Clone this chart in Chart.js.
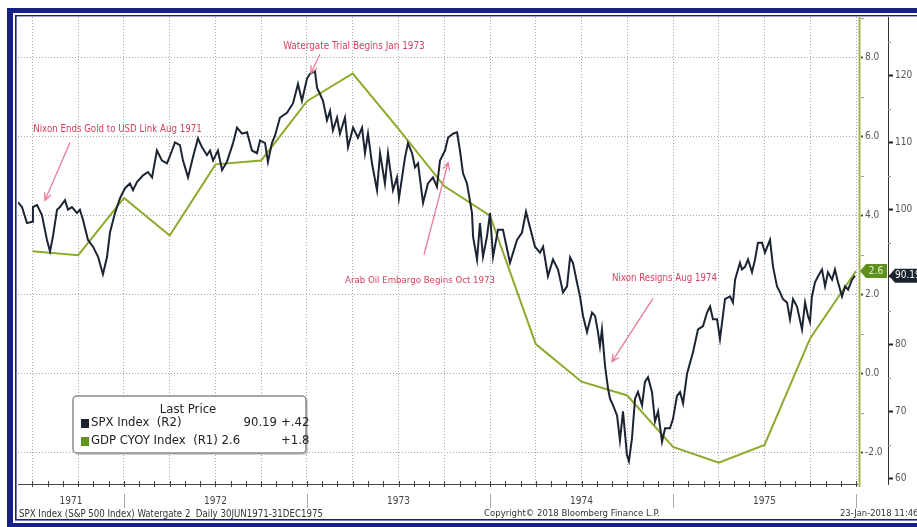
<!DOCTYPE html>
<html>
<head>
<meta charset="utf-8">
<script src="https://cdn.jsdelivr.net/npm/chart.js@4.4.0/dist/chart.umd.min.js"></script>
<style>
    html, body { margin: 0; padding: 0; background: #fff; overflow: hidden; }
    canvas { display: block; }
</style>
</head>
<body>
<canvas id="chart" width="917" height="527"></canvas>
<script>
// x values are months counted from Jan 1971 (12 = Jan 1972, 24 = Jan 1973 ...)
const spxMonth = [5.05, 5.31, 5.64, 5.97, 6.03, 6.30, 6.62, 6.95, 7.15, 7.34, 7.61, 7.80, 8.13, 8.33, 8.59, 8.92, 9.11, 9.31, 9.64, 9.97,
    10.30, 10.62, 10.89, 11.08, 11.41, 11.74, 12.07, 12.39, 12.59, 12.85, 13.25, 13.57, 13.84, 14.16, 14.49, 14.82, 15.15, 15.34, 15.67, 15.87,
    16.20, 16.52, 16.85, 17.11, 17.44, 17.64, 17.84, 18.16, 18.43, 18.75, 19.15, 19.41, 19.74, 20.07, 20.39, 20.72, 20.92, 21.25, 21.44, 21.70,
    21.90, 22.23, 22.69, 23.08, 23.41, 23.67, 24.00, 24.20, 24.52, 24.66, 24.85, 25.05, 25.31, 25.51, 25.70, 25.97, 26.16, 26.49, 26.69, 27.02,
    27.34, 27.61, 27.80, 28.00, 28.26, 28.59, 28.79, 29.11, 29.31, 29.64, 29.90, 30.03, 30.43, 30.62, 30.89, 31.08, 31.28, 31.61, 31.93, 32.26,
    32.52, 32.72, 33.05, 33.25, 33.57, 33.84, 34.03, 34.23, 34.49, 34.82, 34.89, 35.15, 35.34, 35.54, 35.80, 36.00, 36.20, 36.52, 36.85, 37.31,
    37.77, 38.10, 38.36, 38.62, 38.95, 39.28, 39.48, 39.80, 40.13, 40.46, 40.79, 41.05, 41.25, 41.44, 41.70, 41.90, 42.10, 42.36, 42.69, 42.89,
    43.08, 43.21, 43.34, 43.54, 43.74, 43.87, 44.07, 44.33, 44.52, 44.72, 44.98, 45.11, 45.31, 45.51, 45.70, 45.97, 46.16, 46.36, 46.62, 46.82,
    47.02, 47.28, 47.48, 47.80, 48.00, 48.26, 48.46, 48.66, 48.92, 49.31, 49.64, 49.97, 50.23, 50.43, 50.62, 50.89, 51.08, 51.41, 51.74, 51.93,
    52.07, 52.39, 52.52, 52.72, 52.92, 53.18, 53.38, 53.57, 53.84, 54.03, 54.36, 54.56, 54.82, 55.02, 55.21, 55.48, 55.67, 55.87, 56.13, 56.46,
    56.66, 56.85, 56.98, 57.11, 57.31, 57.51, 57.77, 57.97, 58.16, 58.43, 58.62, 58.82, 59.08, 59.28, 59.48, 59.74, 59.93];
const spxValue = [101.1, 100.4, 98.0, 98.2, 100.4, 100.7, 99.2, 95.5, 93.8, 96.0, 100.0, 100.4, 101.4, 100.0, 100.4, 99.5, 100.0, 98.5, 95.5, 94.5,
    93.0, 90.4, 93.0, 96.6, 99.5, 101.7, 103.2, 103.9, 102.9, 104.1, 105.1, 105.6, 104.8, 108.8, 107.3, 106.9, 108.8, 110.0, 109.6, 107.3,
    104.8, 107.8, 110.6, 109.3, 108.1, 108.8, 107.3, 108.8, 105.9, 107.1, 109.9, 112.2, 111.3, 111.5, 108.8, 108.4, 110.3, 109.9, 107.1, 109.9,
    111.0, 113.7, 114.4, 115.8, 118.7, 116.2, 119.5, 120.2, 120.6, 118.1, 117.2, 116.2, 113.3, 114.7, 111.8, 113.7, 111.3, 113.7, 109.3, 112.2,
    110.7, 112.2, 108.4, 111.3, 106.9, 102.9, 108.4, 103.9, 108.4, 102.9, 104.8, 101.7, 107.8, 109.9, 108.4, 106.3, 106.9, 101.0, 103.9, 104.8,
    103.4, 107.3, 108.8, 110.7, 111.3, 111.5, 108.8, 105.4, 103.9, 99.5, 96.0, 92.6, 98.0, 93.0, 96.0, 99.5, 93.0, 97.0, 97.0, 92.1,
    95.5, 96.6, 99.7, 97.4, 94.5, 93.6, 94.5, 90.1, 92.6, 91.1, 87.7, 88.6, 92.9, 92.1, 89.2, 87.1, 84.2, 81.8, 84.7, 84.2,
    81.8, 79.7, 82.2, 76.8, 73.4, 71.9, 70.9, 69.4, 65.7, 70.0, 63.5, 62.6, 66.0, 71.9, 72.9, 70.9, 74.4, 75.1, 72.9, 68.5,
    70.0, 65.5, 67.5, 67.5, 68.9, 72.3, 72.9, 71.2, 75.6, 78.8, 82.2, 82.7, 84.7, 85.6, 83.7, 83.7, 80.8, 86.7, 87.1, 86.2,
    89.6, 92.1, 91.1, 91.5, 92.6, 90.7, 92.6, 95.1, 95.1, 93.6, 95.5, 91.5, 88.6, 87.7, 86.7, 86.2, 83.7, 86.7, 85.6, 82.2,
    86.2, 84.2, 83.3, 87.1, 89.2, 90.1, 91.1, 88.6, 90.7, 89.6, 91.1, 89.2, 87.1, 88.6, 88.1, 89.6, 90.19];

const gdpMonth = [6, 9, 12, 15, 18, 21, 24, 27, 30, 33, 36, 39, 42, 45, 48, 51, 54, 57, 60];
const gdpValue = [3.1, 3.0, 4.45, 3.5, 5.3, 5.4, 6.9, 7.6, 6.2, 4.75, 4.0, 0.75, -0.2, -0.55, -1.85, -2.25, -1.8, 0.9, 2.6];

const gridMonths = [6, 9, 12, 15, 18, 21, 24, 27, 30, 33, 36, 39, 42, 45, 48, 51, 54, 57, 60];
const yearBounds = [12, 24, 36, 48, 60];
const yearLabels = ["1971", "1972", "1973", "1974", "1975"];
const gdpTicks = [-2, 0, 2, 4, 6, 8];
const spxTicks = [60, 70, 80, 90, 100, 110, 120];

const legendNames = ["SPX Index  (R2)", "GDP CYOY Index  (R1)"];
const legendLast = ["90.19", "2.6"];
const legendChange = ["+.42", "+1.8"];

// notes placed in (month, SPX value) coordinates
const notes = [
    { text: "Nixon Ends Gold to USD Link Aug 1971", at: [11.57, 111.9], width: 169, from: [8.46, 110.0], to: [6.82, 101.4] },
    { text: "Watergate Trial Begins Jan 1973", at: [27.08, 124.3], width: 142, from: [24.85, 123.1], to: [24.26, 120.3] },
    { text: "Arab Oil Embargo Begins Oct 1973", at: [31.41, 89.5], width: 150, from: [31.67, 93.3], to: [33.25, 107.0] },
    { text: "Nixon Resigns Aug 1974", at: [47.44, 89.8], width: 105, from: [46.69, 86.8], to: [44.0, 77.4] }
];

const footLeft = "SPX Index (S&P 500 Index) Watergate 2  Daily 30JUN1971-31DEC1975";
const footMid = "Copyright\u00A9 2018 Bloomberg Finance L.P.";
const footRight = "23-Jan-2018 11:46:44";

const spxColor = "#1c2433";
const gdpColor = "#8dab2b";
const navy = "#16208a";
const noteColor = "#d4405e";
const arrowColor = "#ec7c95";
const narrow = "'Liberation Sans Narrow', 'DejaVu Sans Condensed', sans-serif";
const cond = "'DejaVu Sans Condensed', 'Liberation Sans Narrow', sans-serif";

Chart.defaults.font.family = cond;

function fitText(ctx, text, width, family) {
    ctx.font = "10px " + family;
    const size = 10 * width / ctx.measureText(text).width;
    ctx.font = size.toFixed(2) + "px " + family;
}

function arrow(ctx, x1, y1, x2, y2) {
    const a = Math.atan2(y2 - y1, x2 - x1);
    ctx.beginPath();
    ctx.moveTo(x1, y1);
    ctx.lineTo(x2, y2);
    ctx.moveTo(x2 - 8 * Math.cos(a - 0.45), y2 - 8 * Math.sin(a - 0.45));
    ctx.lineTo(x2, y2);
    ctx.lineTo(x2 - 8 * Math.cos(a + 0.45), y2 - 8 * Math.sin(a + 0.45));
    ctx.stroke();
}

const decorPlugin = {
    id: "decor",
    beforeDraw(chart) {
        const ctx = chart.ctx;
        ctx.save();
        ctx.fillStyle = "#fff";
        ctx.fillRect(0, 0, chart.width, chart.height);
        ctx.restore();
    },
    afterDraw(chart) {
        const ctx = chart.ctx;
        const x = chart.scales.x, yG = chart.scales.yGdp, yS = chart.scales.ySpx;
        const area = chart.chartArea;
        ctx.save();

        // axis lines: time axis and the GDP axis band
        ctx.fillStyle = "#d6dea6";
        ctx.fillRect(yG.left, area.top, 3, area.bottom - area.top + 3);
        ctx.fillStyle = "#9cb04a";
        ctx.fillRect(yG.left + 1, area.top, 1, area.bottom - area.top + 3);
        ctx.fillStyle = "#444";
        ctx.fillRect(area.left, Math.round(area.bottom), yG.left - area.left, 1);

        // month ticks on the time axis
        ctx.strokeStyle = "#444";
        ctx.lineWidth = 1;
        for (let m = 6; m <= 60; m++) {
            const px = Math.round(x.getPixelForValue(m)) + 0.5;
            ctx.beginPath();
            ctx.moveTo(px, area.bottom - 3);
            ctx.lineTo(px, area.bottom + 3);
            ctx.stroke();
        }
        // minor ticks on the value axes
        ctx.strokeStyle = "#999";
        for (let v = -1; v <= 9; v += 2) {
            const py = Math.round(yG.getPixelForValue(v)) + 0.5;
            ctx.beginPath(); ctx.moveTo(yG.left + 3, py); ctx.lineTo(yG.left + 6, py); ctx.stroke();
        }
        for (let v = 65; v <= 125; v += 10) {
            const py = Math.round(yS.getPixelForValue(v)) + 0.5;
            ctx.beginPath(); ctx.moveTo(yS.left, py); ctx.lineTo(yS.left + 3, py); ctx.stroke();
        }

        // year labels and separators
        ctx.strokeStyle = "#aaa";
        ctx.fillStyle = "#444";
        ctx.font = "10px " + narrow;
        ctx.textAlign = "center";
        ctx.textBaseline = "middle";
        let prev = x.min;
        yearBounds.forEach((b, i) => {
            const p0 = x.getPixelForValue(prev), p1 = x.getPixelForValue(b);
            ctx.fillText(yearLabels[i], (p0 + p1) / 2, 501);
            const sx = Math.round(p1) + 0.5;
            ctx.beginPath(); ctx.moveTo(sx, 494); ctx.lineTo(sx, 508); ctx.stroke();
            prev = b;
        });

        // footer
        ctx.fillStyle = "#333";
        ctx.textAlign = "left";
        fitText(ctx, footLeft, 304, narrow);
        ctx.fillText(footLeft, 19, 514);
        fitText(ctx, footMid, 176, narrow);
        ctx.fillText(footMid, 484, 514);
        fitText(ctx, footRight, 92, narrow);
        ctx.fillText(footRight, 840, 514);

        // notes with arrows
        ctx.strokeStyle = arrowColor;
        ctx.lineWidth = 1.3;
        ctx.fillStyle = noteColor;
        ctx.textAlign = "center";
        notes.forEach(n => {
            fitText(ctx, n.text, n.width, narrow);
            ctx.fillText(n.text, x.getPixelForValue(n.at[0]), yS.getPixelForValue(n.at[1]));
            arrow(ctx, x.getPixelForValue(n.from[0]), yS.getPixelForValue(n.from[1]),
                x.getPixelForValue(n.to[0]), yS.getPixelForValue(n.to[1]));
        });

        // legend box
        const lx = 73, ly = 396, lw = 233, lh = 57;
        ctx.fillStyle = "rgba(0,0,0,0.18)";
        ctx.beginPath(); ctx.roundRect(lx + 2, ly + 2, lw, lh, 4); ctx.fill();
        ctx.fillStyle = "#fff";
        ctx.strokeStyle = "#8a8a8a";
        ctx.lineWidth = 1.5;
        ctx.beginPath(); ctx.roundRect(lx, ly, lw, lh, 4); ctx.fill(); ctx.stroke();
        ctx.fillStyle = "#222";
        ctx.font = "13px " + narrow;
        ctx.textAlign = "center";
        ctx.fillText("Last Price", 188, 410);
        const colors = [spxColor, "#5f9420"];
        [423, 441].forEach((ry, i) => {
            ctx.fillStyle = colors[i];
            ctx.fillRect(81, ry - 4, 8, 9);
            ctx.fillStyle = "#222";
            ctx.font = "13px " + narrow;
            ctx.textAlign = "left";
            ctx.fillText(i === 0 ? legendNames[i] : legendNames[i] + " " + legendLast[i], 91, ry);
            if (i === 0) {
                ctx.textAlign = "right";
                ctx.fillText(legendLast[i], 277, ry);
            }
            ctx.textAlign = "left";
            ctx.fillText(legendChange[i], 281, ry);
        });

        // last value badges
        const gy = yG.getPixelForValue(gdpValue[gdpValue.length - 1]);
        const sy = yS.getPixelForValue(spxValue[spxValue.length - 1]);
        ctx.fillStyle = "#5e9020";
        ctx.beginPath();
        ctx.moveTo(yG.left + 2, gy); ctx.lineTo(yG.left + 8, gy - 7); ctx.lineTo(yG.right - 1, gy - 7);
        ctx.lineTo(yG.right - 1, gy + 7); ctx.lineTo(yG.left + 8, gy + 7); ctx.closePath(); ctx.fill();
        ctx.fillStyle = "#1b2230";
        ctx.beginPath();
        ctx.moveTo(yS.left + 1, sy); ctx.lineTo(yS.left + 7, sy - 7); ctx.lineTo(chart.width, sy - 7);
        ctx.lineTo(chart.width, sy + 7); ctx.lineTo(yS.left + 7, sy + 7); ctx.closePath(); ctx.fill();
        ctx.font = "10px " + narrow;
        ctx.textAlign = "center";
        ctx.fillStyle = "#e4f0c8";
        ctx.fillText(legendLast[1], (yG.left + yG.right) / 2 + 3, gy);
        ctx.fillStyle = "#fff";
        ctx.textAlign = "left";
        ctx.fillText(legendLast[0], yS.left + 7, sy);

        // frame
        ctx.fillStyle = navy;
        ctx.fillRect(7, 8, 6, chart.height - 8);
        ctx.fillRect(7, 8, chart.width - 7, 5);
        ctx.fillRect(7, 523, chart.width - 7, 4);
        ctx.fillRect(15, 15, 1.6, 505);
        ctx.fillRect(15, 15, chart.width - 15, 1.4);
        ctx.fillRect(15, 519, chart.width - 15, 1.6);
        ctx.restore();
    }
};

new Chart(document.getElementById("chart"), {
    type: "line",
    data: {
        datasets: [
            {
                label: "SPX Index",
                data: spxMonth.map((m, i) => ({ x: m, y: spxValue[i] })),
                yAxisID: "ySpx",
                borderColor: spxColor,
                borderWidth: 2,
                pointRadius: 0,
                order: 1
            },
            {
                label: "GDP CYOY Index",
                data: gdpMonth.map((m, i) => ({ x: m, y: gdpValue[i] })),
                yAxisID: "yGdp",
                borderColor: gdpColor,
                borderWidth: 2,
                pointRadius: 0,
                order: 2
            }
        ]
    },
    options: {
        responsive: false,
        animation: false,
        layout: { padding: { left: 18, top: 17, right: 0, bottom: 0 } },
        plugins: { legend: { display: false }, tooltip: { enabled: false } },
        scales: {
            x: {
                type: "linear",
                min: 5.05,
                max: 60.13,
                afterBuildTicks: s => { s.ticks = gridMonths.map(v => ({ value: v })); },
                afterFit: s => { s.height = 43; },
                ticks: { display: false },
                grid: { color: "#a8a8a8", drawTicks: false },
                border: { display: false, dash: [1, 2] }
            },
            yGdp: {
                type: "linear",
                position: "right",
                min: -2.79,
                max: 9.03,
                afterBuildTicks: s => { s.ticks = gdpTicks.map(v => ({ value: v })); },
                afterFit: s => { s.width = 30; },
                ticks: { callback: v => v.toFixed(1), color: "#555", font: { size: 10 }, padding: 2 },
                grid: { color: "#a8a8a8", tickLength: 5, tickColor: "#4d5a1e", tickWidth: 2, tickBorderDash: [] },
                border: { display: false, dash: [1, 2] }
            },
            ySpx: {
                type: "linear",
                position: "right",
                min: 59.21,
                max: 128.65,
                afterBuildTicks: s => { s.ticks = spxTicks.map(v => ({ value: v })); },
                afterFit: s => { s.width = 29; },
                ticks: { color: "#555", font: { size: 10 }, padding: 2 },
                grid: { drawOnChartArea: false, tickLength: 5, tickColor: "#222", tickWidth: 2 },
                border: { color: "#333", width: 1 }
            }
        }
    },
    plugins: [decorPlugin]
});
</script>
</body>
</html>
